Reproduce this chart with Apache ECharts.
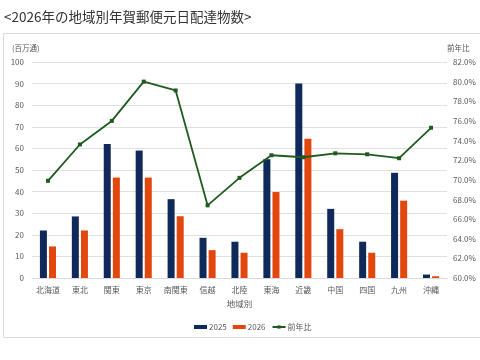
<!DOCTYPE html>
<html><head><meta charset="utf-8">
<script src="https://cdn.jsdelivr.net/npm/echarts@6/dist/echarts.min.js"></script>
<style>html,body{margin:0;padding:0;background:#fff}#c{width:480px;height:360px}</style>
</head><body><div id="c"></div>
<script>
const categories = ['北海道','東北','関東','東京','南関東','信越','北陸','東海','近畿','中国','四国','九州','沖縄'];
const v2025 = [22, 28.5, 62, 59, 36.5, 18.6, 16.8, 55, 90, 32, 16.8, 48.7, 1.6];
const v2026 = [14.6, 22, 46.5, 46.5, 28.6, 12.9, 11.7, 39.8, 64.5, 22.6, 11.7, 35.8, 0.8];
const ratio = [69.9, 73.6, 76.0, 80.0, 79.1, 67.4, 70.2, 72.5, 72.3, 72.7, 72.6, 72.2, 75.3];
const seriesNames = ['2025', '2026', '前年比'];

const chart = echarts.init(document.getElementById('c'), null, {renderer:'canvas'});
const font = '"Noto Sans CJK JP", "Noto Sans", sans-serif';
const lbl = {color:'#595959', fontSize:8, fontFamily:font};
chart.setOption({
  animation:false,
  textStyle:{fontFamily:font},
  graphic:[
    {type:'text', left:4, top:10, style:{text:'<2026年の地域別年賀郵便元日配達物数>', fontSize:13.5, fill:'#333', fontFamily:font}},
    {type:'rect', shape:{x:3.5, y:33.5, width:480, height:304}, style:{fill:'none', stroke:'#d9d9d9', lineWidth:1}}
  ],
  legend:{bottom:24, left:189, itemWidth:13, itemHeight:4, itemGap:6, textStyle:{color:'#595959', fontSize:8, fontFamily:font, padding:[0,0,0,-3]},
    data:[{name:'2025', icon:'rect'},{name:'2026', icon:'rect'},{name:'前年比'}]},
  grid:{left:32, right:33, top:62, bottom:82},
  xAxis:{type:'category', data:categories, name:'地域別', nameLocation:'middle', nameGap:22,
    nameTextStyle:{color:'#595959', fontSize:8.5, fontFamily:font},
    axisLine:{show:true, lineStyle:{color:'#d9d9d9'}}, axisTick:{show:false},
    axisLabel:Object.assign({margin:8, interval:0}, lbl)},
  yAxis:[
    {type:'value', min:0, max:100, interval:10, name:'(百万通)', nameLocation:'end', nameGap:10,
      nameTextStyle:{color:'#595959', fontSize:7.5, fontFamily:font, align:'left', padding:[0,0,0,-20]},
      axisLine:{show:false}, axisTick:{show:false},
      axisLabel:Object.assign({margin:8}, lbl),
      splitLine:{lineStyle:{color:'#e0e0e0'}}},
    {type:'value', min:60, max:82, interval:2, name:'前年比', nameLocation:'end', nameGap:10,
      nameTextStyle:{color:'#595959', fontSize:7.5, fontFamily:font, align:'left', padding:[0,0,0,0]},
      axisLine:{show:false}, axisTick:{show:false},
      axisLabel:Object.assign({margin:6, formatter:v=>v.toFixed(1)+'%'}, lbl),
      splitLine:{show:false}}
  ],
  series:[
    {name:seriesNames[0], type:'bar', data:v2025, barWidth:7, barGap:'30%', itemStyle:{color:'#0f2a5a'}},
    {name:seriesNames[1], type:'bar', data:v2026, barWidth:7, itemStyle:{color:'#e2470d'}},
    {name:seriesNames[2], type:'line', yAxisIndex:1, data:ratio, symbol:'rect', symbolSize:4,
      lineStyle:{color:'#1f5a1f', width:1.8}, itemStyle:{color:'#1f5a1f'}}
  ]
});
</script></body></html>
